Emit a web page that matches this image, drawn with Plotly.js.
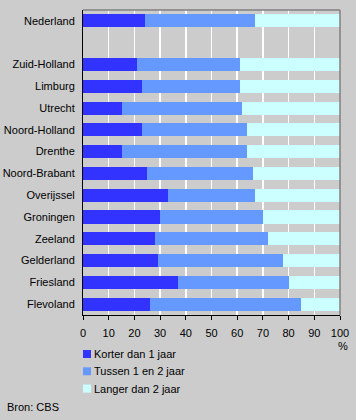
<!DOCTYPE html>
<html>
<head>
<meta charset="utf-8">
<script src="https://cdn.plot.ly/plotly-3.0.1.min.js"></script>
<style>
  html, body { margin: 0; padding: 0; background: #cccccc; }
  #chart { width: 356px; height: 420px; }
</style>
</head>
<body>
<div id="chart"></div>
<script>
var categories = ["Nederland", " ", "Zuid-Holland", "Limburg", "Utrecht", "Noord-Holland", "Drenthe",
  "Noord-Brabant", "Overijssel", "Groningen", "Zeeland", "Gelderland", "Friesland", "Flevoland"];
var korter = [24, null, 21, 23, 15, 23, 15, 25, 33, 30, 28, 29, 37, 26];
var tussen = [43, null, 40, 38, 47, 41, 49, 41, 34, 40, 44, 49, 43, 59];
var langer = [33, null, 39, 39, 38, 36, 36, 34, 33, 30, 28, 22, 20, 15];
var seriesNames = ["Korter dan 1 jaar", "Tussen 1 en 2 jaar", "Langer dan 2 jaar"];
var xTicks = [0, 10, 20, 30, 40, 50, 60, 70, 80, 90, 100];

var colors = ["#3333ff", "#6699ff", "#ccffff"];
var vals = [korter, tussen, langer];
var traces = vals.map(function (v, i) {
  return {
    type: "bar", orientation: "h", y: categories, x: v, name: seriesNames[i],
    marker: { color: colors[i], line: { width: 0 } }, width: 0.6,
    hoverinfo: "x+y+name", showlegend: false
  };
});

var W = 356, H = 420, L = 83, R = 16, T = 10, B = 105;
var pw = W - L - R, ph = H - T - B;
function px(x) { return (x - L) / pw; }
function py(y) { return (H - B - y) / ph; }

var font = { family: "Liberation Sans, Arial, sans-serif", size: 11, color: "#000000" };

var shapes = [
  { type: "line", xref: "paper", yref: "paper", x0: 0, x1: 1, y0: 1, y1: 1,
    line: { color: "#808080", width: 1.5 } },
  { type: "line", xref: "paper", yref: "paper", x0: 1, x1: 1, y0: 0, y1: 1,
    line: { color: "#808080", width: 1.5 } }
];
var annotations = [
  { text: "%", xref: "paper", yref: "paper", x: px(343), y: py(346), xanchor: "center", yanchor: "middle",
    showarrow: false, font: font },
  { text: "Bron: CBS", xref: "paper", yref: "paper", x: px(5), y: py(407), xanchor: "left", yanchor: "middle",
    showarrow: false, font: font }
];
// manual legend
seriesNames.forEach(function (name, i) {
  var cy = 354 + i * 17.3;
  shapes.push({ type: "rect", xref: "paper", yref: "paper",
    x0: px(83), x1: px(91), y0: py(cy + 4), y1: py(cy - 4),
    fillcolor: colors[i], line: { width: 0 } });
  annotations.push({ text: name, xref: "paper", yref: "paper", x: px(92), y: py(cy),
    xanchor: "left", yanchor: "middle", showarrow: false, font: font });
});

var layout = {
  width: W, height: H,
  paper_bgcolor: "#cccccc", plot_bgcolor: "#cccccc",
  font: font,
  barmode: "stack",
  margin: { l: L, r: R, t: T, b: B, pad: 0 },
  showlegend: false,
  xaxis: {
    range: [0, 100], tickvals: xTicks, ticktext: xTicks.map(String),
    showgrid: true, gridcolor: "#ffffff", gridwidth: 1.5,
    zeroline: false, showline: true, linecolor: "#000000", linewidth: 1,
    ticks: "outside", ticklen: 4, tickcolor: "#000000", ticklabelstandoff: 4,
    tickfont: font, fixedrange: true, mirror: false
  },
  yaxis: {
    type: "category", categoryorder: "array", categoryarray: categories,
    autorange: "reversed", showgrid: false, zeroline: false,
    showline: true, linecolor: "#000000", linewidth: 1,
    ticks: "", tickfont: font, ticklabelstandoff: 5, fixedrange: true
  },
  shapes: shapes,
  annotations: annotations
};

Plotly.newPlot("chart", traces, layout, { displayModeBar: false, staticPlot: true });
</script>
</body>
</html>
